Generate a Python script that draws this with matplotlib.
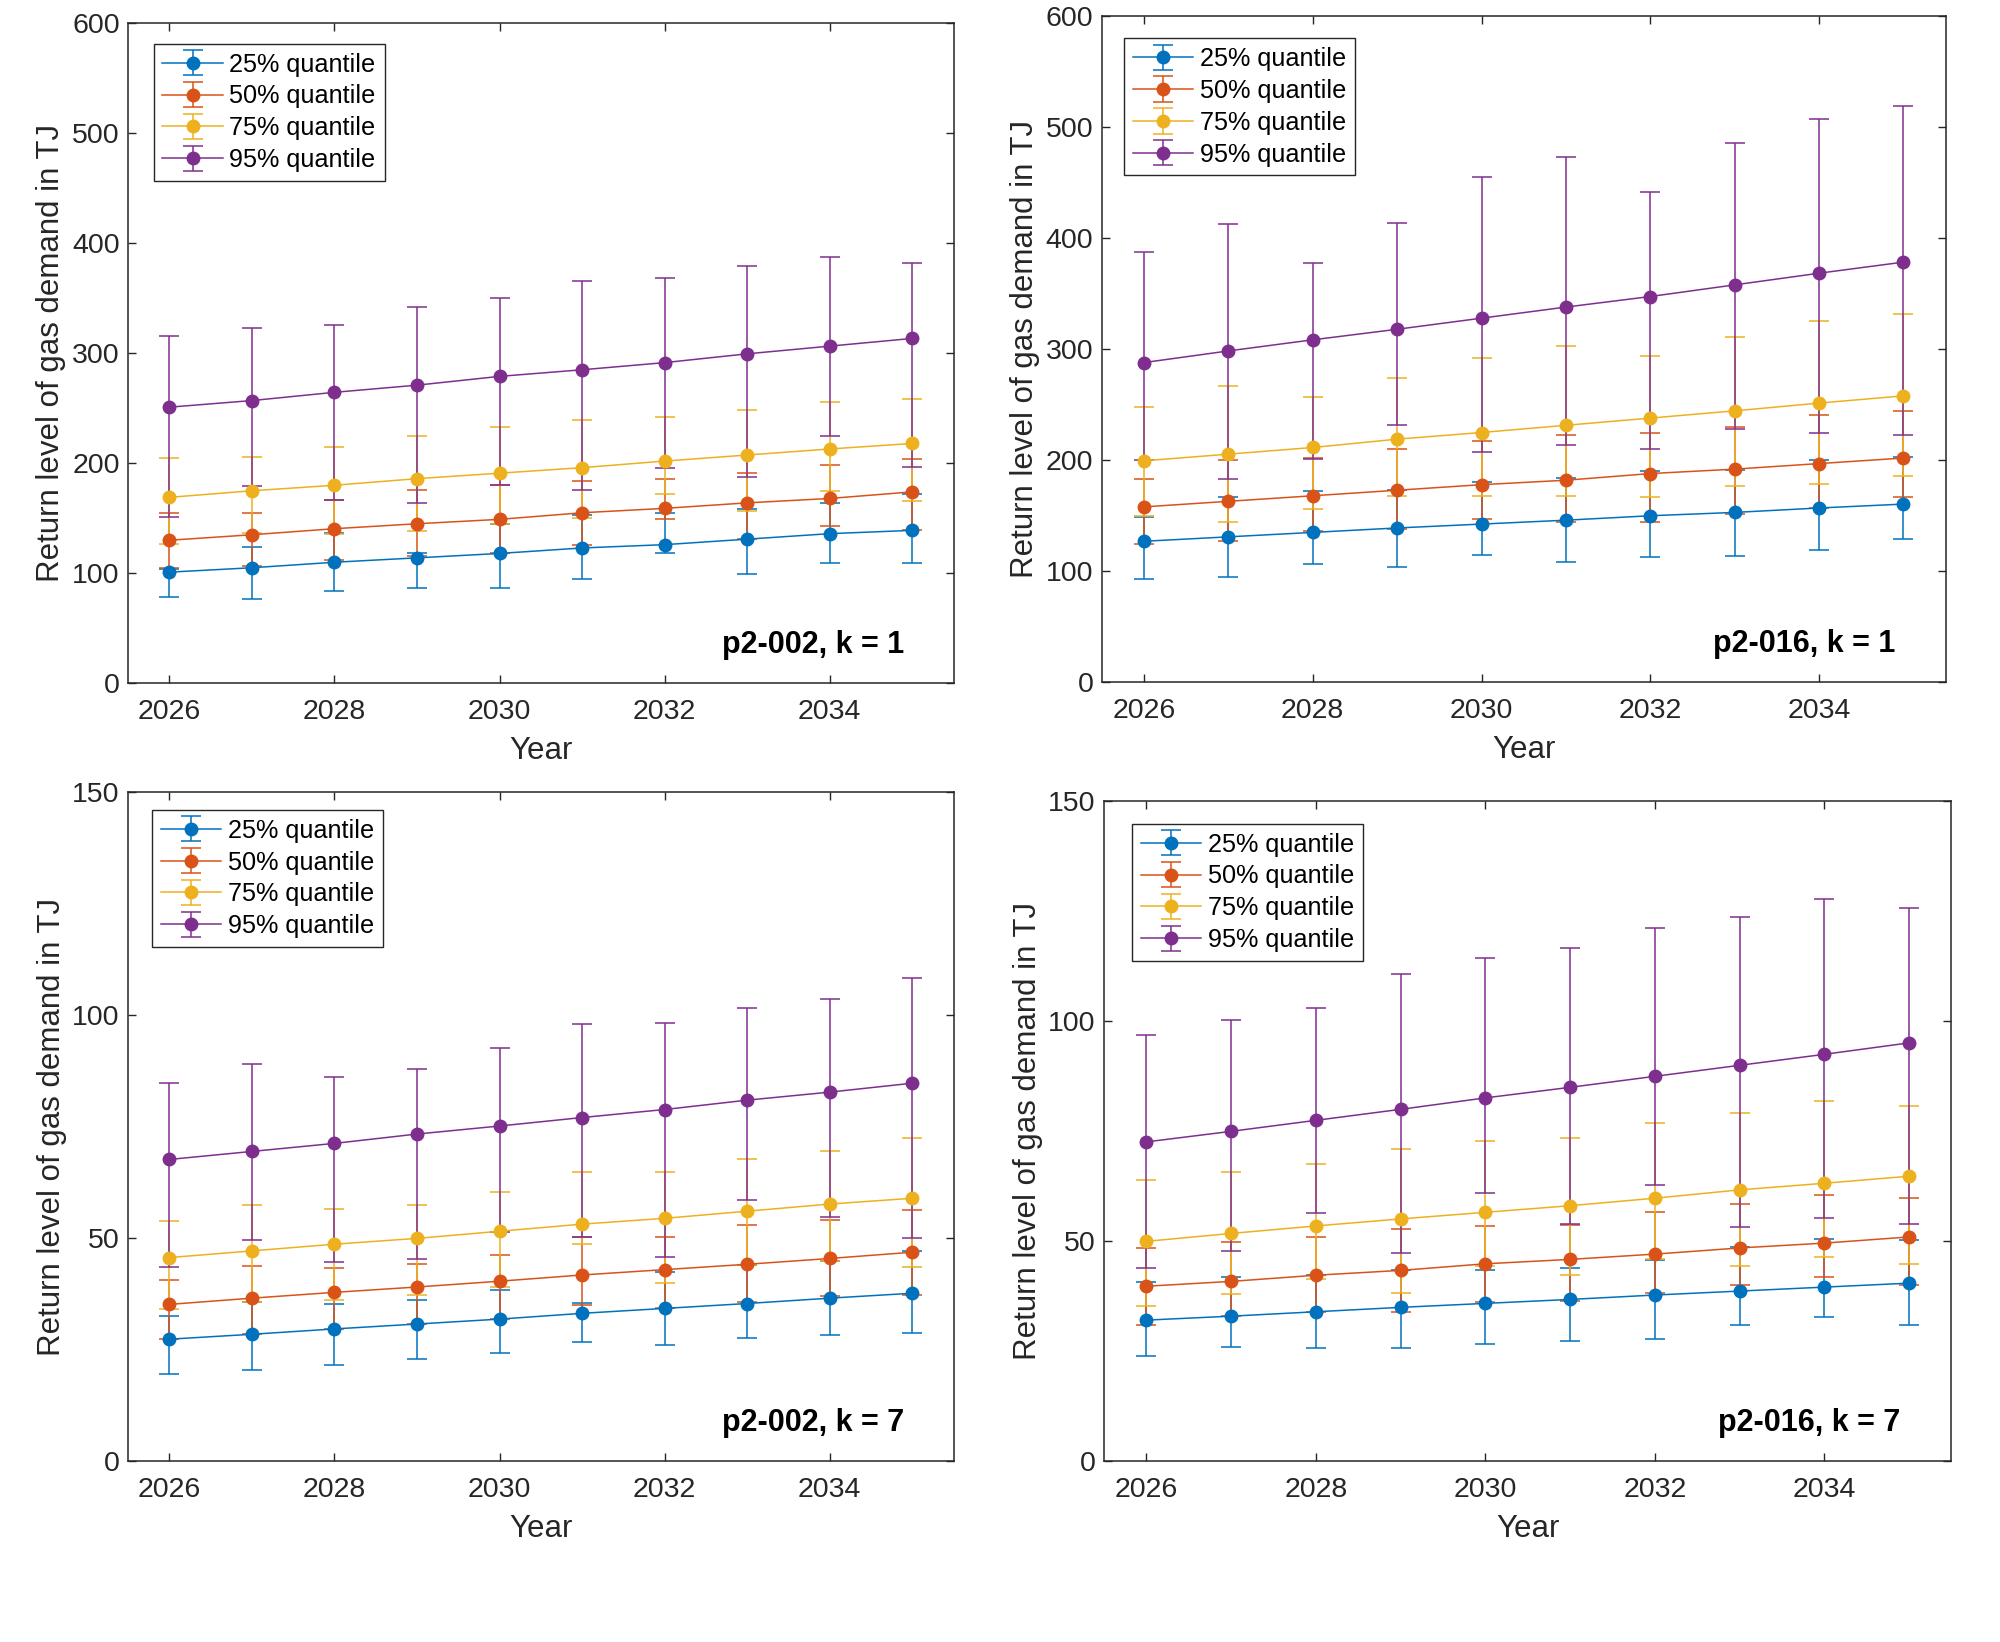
import numpy as np
import matplotlib
matplotlib.use("Agg")
import matplotlib.pyplot as plt

plt.rcParams['font.family'] = ['Liberation Sans', 'DejaVu Sans']

years = list(range(2026, 2036))
labels = ["25% quantile", "50% quantile", "75% quantile", "95% quantile"]
colors = ["#0072BD", "#D95319", "#EDB120", "#7E2F8E"]

# p2-002, k = 1
a_q25 = [101, 105, 110, 114, 118, 123, 126, 131, 136, 139]
a_q25_lo = [78, 77, 84, 87, 87, 95, 118, 99, 109, 109]
a_q25_hi = [104, 124, 137, 118, 145, 153, 155, 158, 164, 172]
a_q50 = [130, 135, 140.5, 145, 149, 155, 159, 164, 168, 174]
a_q50_lo = [104.5, 107, 112, 116, 118, 126, 149, 131, 143, 139]
a_q50_hi = [155, 154.5, 167, 176, 180, 184, 186, 191, 198, 204]
a_q75 = [169, 175, 180, 186, 191, 196, 202, 207.5, 213, 218]
a_q75_lo = [127, 137, 136, 138, 145, 150, 172, 157, 174.5, 165.5]
a_q75_hi = [205, 206, 215, 225, 233, 239, 242, 248, 255.5, 258]
a_q95 = [251, 257, 264.5, 271, 279, 285, 291.5, 299.5, 306.5, 313.5]
a_q95_lo = [151, 179, 167, 164, 180, 176, 195.5, 187.5, 224.5, 196.5]
a_q95_hi = [316, 323, 325.5, 342, 350, 365.5, 368, 379.5, 387.5, 382.5]

# p2-016, k = 1
b_q25 = [127, 131, 135, 139, 142.5, 146, 150, 153, 157, 160.5]
b_q25_lo = [93, 95, 106.5, 103.5, 114.5, 108, 112.5, 114, 119, 129.5]
b_q25_hi = [149, 167, 172, 173, 180, 184, 190, 191, 200, 203]
b_q50 = [158, 163, 168, 173, 178, 182, 188, 192, 197, 202]
b_q50_lo = [124.5, 127, 136, 138, 147.5, 144.5, 144.5, 151.5, 157, 166.5]
b_q50_hi = [183, 200, 202, 210, 217, 223, 225, 230, 241, 244]
b_q75 = [199.5, 205.5, 211.5, 219, 225, 231.5, 238, 244.5, 251.5, 258]
b_q75_lo = [150, 144, 156, 168, 168, 167.5, 166.5, 176.5, 179, 185.5]
b_q75_hi = [248, 267, 257, 274, 292, 302.5, 293.5, 311, 325.5, 331.5]
b_q95 = [288, 298.5, 308.5, 318, 328, 338, 347.5, 358, 368.5, 378.5]
b_q95_lo = [200, 183, 201, 232, 207, 213.5, 210, 228, 224.5, 222.5]
b_q95_hi = [387.5, 412.5, 377.5, 413.5, 455, 473.5, 442, 485.5, 507, 519]

# p2-002, k = 7
c_q25 = [27.4, 28.5, 29.7, 30.8, 31.9, 33.2, 34.3, 35.4, 36.6, 37.7]
c_q25_lo = [19.5, 20.6, 21.7, 22.9, 24.4, 26.7, 26.2, 27.6, 28.3, 28.7]
c_q25_hi = [32.5, 35.8, 35.2, 36.1, 38.4, 35.5, 42.5, 44, 45, 47.2]
c_q50 = [35.2, 36.6, 37.9, 39.1, 40.4, 41.8, 43, 44.2, 45.5, 46.9]
c_q50_lo = [27.4, 28.5, 29.6, 30.7, 32, 35, 34.3, 35.8, 37.1, 37.3]
c_q50_hi = [40.6, 43.7, 43.3, 44.2, 46.2, 50.3, 50.4, 52.9, 54.1, 56.3]
c_q75 = [45.7, 47.2, 48.7, 50, 51.6, 53.2, 54.5, 56.1, 57.7, 59]
c_q75_lo = [34.1, 35.8, 36.2, 37.3, 39.1, 48.7, 40.1, 44, 44.9, 43.5]
c_q75_hi = [54, 57.6, 56.5, 57.6, 60.3, 64.9, 64.9, 67.9, 69.5, 72.4]
c_q95 = [67.7, 69.5, 71.3, 73.4, 75.2, 77.1, 78.9, 81, 82.8, 84.8]
c_q95_lo = [43.5, 49.6, 44.6, 45.3, 51.4, 50.4, 45.9, 58.5, 54.7, 50.2]
c_q95_hi = [84.8, 89.2, 86.1, 87.9, 92.6, 98, 98.4, 101.7, 103.6, 108.5]

# p2-016, k = 7
d_q25 = [32.1, 33, 34, 35, 35.9, 36.8, 37.8, 38.7, 39.6, 40.5]
d_q25_lo = [23.9, 25.9, 25.7, 25.7, 26.6, 27.3, 27.9, 31.1, 32.7, 30.9]
d_q25_hi = [40.8, 41.8, 42.3, 43.4, 43.5, 43.9, 45.7, 48.8, 50.5, 50.4]
d_q50 = [39.8, 40.9, 42.3, 43.4, 44.9, 45.9, 47.1, 48.5, 49.6, 51]
d_q50_lo = [30.9, 33, 34, 34, 36.3, 36.4, 38.2, 40, 41.8, 40.1]
d_q50_hi = [48.6, 49.8, 51.1, 52.7, 53.6, 53.7, 56.6, 58.6, 60.5, 59.8]
d_q75 = [50, 51.8, 53.5, 55.1, 56.6, 58.1, 59.8, 61.7, 63.2, 64.8]
d_q75_lo = [35.2, 38, 41.4, 38.2, 44.5, 42.3, 46.1, 44.3, 46.4, 44.8]
d_q75_hi = [63.9, 65.7, 67.5, 70.9, 72.7, 73.4, 76.8, 79.1, 81.8, 80.7]
d_q95 = [72.6, 75, 77.5, 80, 82.6, 85, 87.5, 90, 92.5, 95.1]
d_q95_lo = [43.9, 47.7, 56.4, 47.3, 60.9, 54, 62.7, 53.2, 55.2, 53.9]
d_q95_hi = [97, 100.2, 103, 110.7, 114.3, 116.6, 121.1, 123.6, 127.7, 125.7]


def draw_panel(ax, series, title, ymax, yticks, legend_anchor):
    x = np.array(years)
    for (mid, lo, hi), color, label in zip(series, colors, labels):
        mid = np.array(mid)
        err = [mid - np.array(lo), np.array(hi) - mid]
        ax.errorbar(x, mid, yerr=err, color=color, marker='o', markersize=9,
                    linewidth=1.1, elinewidth=1.1, capsize=7, capthick=1.1,
                    label=label)

    ax.set_xlim(2025.5, 2035.5)
    ax.set_ylim(0, ymax)
    ax.set_xticks([2026, 2028, 2030, 2032, 2034])
    ax.set_yticks(yticks)
    ax.tick_params(direction='in', length=6, width=1, top=True, right=True,
                   labelsize=20.5, colors='#262626')
    ax.tick_params(axis='x', pad=11)
    ax.tick_params(axis='y', pad=6)
    for sp in ax.spines.values():
        sp.set_linewidth(1.1)
        sp.set_color('#262626')

    ax.set_xlabel("Year", fontsize=22.5, color='#262626', labelpad=8)
    ax.set_ylabel("Return level of gas demand in TJ", fontsize=22.5,
                  color='#262626', labelpad=4)

    leg = ax.legend(loc='upper left', bbox_to_anchor=legend_anchor,
                    borderaxespad=0, fontsize=18.2, fancybox=False,
                    edgecolor='#262626', framealpha=1, borderpad=0.35,
                    labelspacing=0.31, handlelength=2.4, handletextpad=0.25)
    leg.get_frame().set_linewidth(1.0)

    ax.text(0.94, 0.058, title, transform=ax.transAxes, ha='right',
            va='center', fontsize=22, fontweight='bold')


fig = plt.figure(figsize=(20, 16.42), dpi=100)

ax1 = fig.add_axes([0.064, 0.5839, 0.4128, 0.4019])
ax2 = fig.add_axes([0.5509, 0.5845, 0.4219, 0.4056])
ax3 = fig.add_axes([0.064, 0.1100, 0.4128, 0.4074])
ax4 = fig.add_axes([0.552, 0.1100, 0.4237, 0.4020])

draw_panel(ax1, [(a_q25, a_q25_lo, a_q25_hi), (a_q50, a_q50_lo, a_q50_hi),
                 (a_q75, a_q75_lo, a_q75_hi), (a_q95, a_q95_lo, a_q95_hi)],
           "p2-002, k = 1", 600, range(0, 601, 100), (0.031, 0.969))
draw_panel(ax2, [(b_q25, b_q25_lo, b_q25_hi), (b_q50, b_q50_lo, b_q50_hi),
                 (b_q75, b_q75_lo, b_q75_hi), (b_q95, b_q95_lo, b_q95_hi)],
           "p2-016, k = 1", 600, range(0, 601, 100), (0.026, 0.967))
draw_panel(ax3, [(c_q25, c_q25_lo, c_q25_hi), (c_q50, c_q50_lo, c_q50_hi),
                 (c_q75, c_q75_lo, c_q75_hi), (c_q95, c_q95_lo, c_q95_hi)],
           "p2-002, k = 7", 150, [0, 50, 100, 150], (0.029, 0.974))
draw_panel(ax4, [(d_q25, d_q25_lo, d_q25_hi), (d_q50, d_q50_lo, d_q50_hi),
                 (d_q75, d_q75_lo, d_q75_hi), (d_q95, d_q95_lo, d_q95_hi)],
           "p2-016, k = 7", 150, [0, 50, 100, 150], (0.033, 0.966))

fig.savefig("out.png", dpi=100, facecolor='white')
